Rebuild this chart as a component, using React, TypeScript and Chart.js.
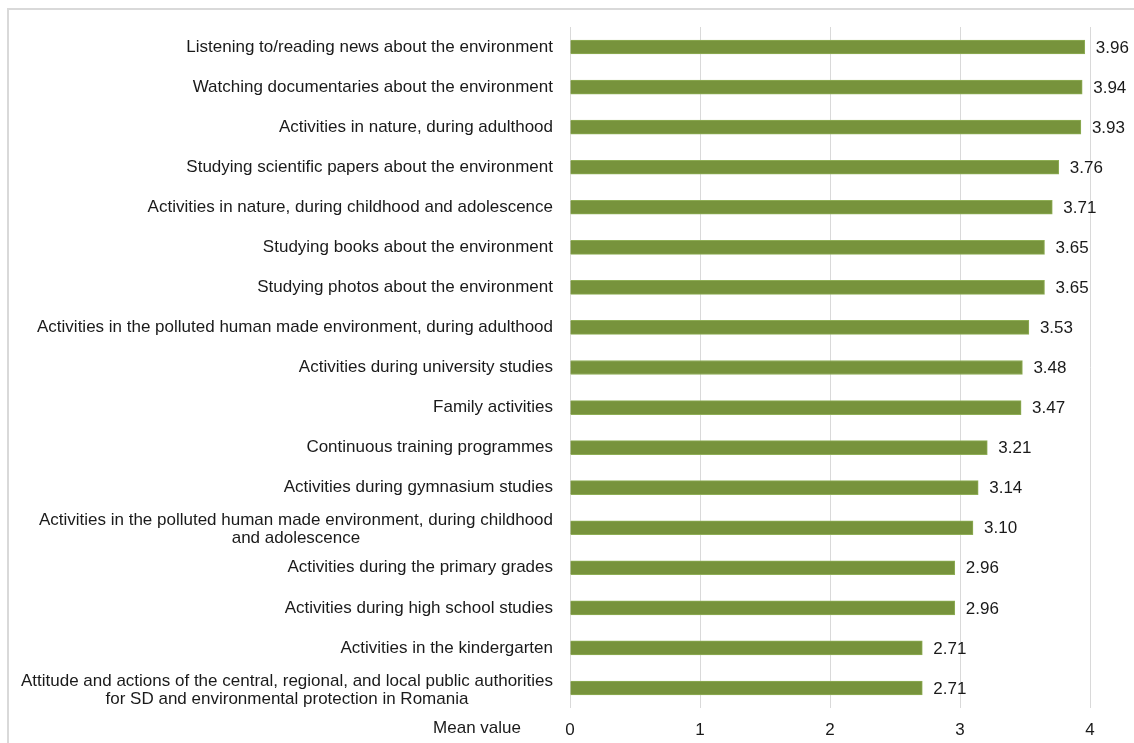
import React, { useEffect, useRef } from "react";
import { Chart, registerables } from "chart.js";

Chart.register(...registerables);

const categories: (string | string[])[] = [
  "Listening to/reading news about the environment",
  "Watching documentaries about the environment",
  "Activities in nature, during adulthood",
  "Studying scientific papers about the environment",
  "Activities in nature, during childhood and adolescence",
  "Studying books about the environment",
  "Studying photos about the environment",
  "Activities in the polluted human made environment, during adulthood",
  "Activities during university studies",
  "Family activities",
  "Continuous training programmes",
  "Activities during gymnasium studies",
  ["Activities in the polluted human made environment, during childhood", "and adolescence"],
  "Activities during the primary grades",
  "Activities during high school studies",
  "Activities in the kindergarten",
  ["Attitude and actions of the central, regional, and local public authorities", "for SD and environmental protection in Romania"],
];

const meanValues: number[] = [3.96, 3.94, 3.93, 3.76, 3.71, 3.65, 3.65, 3.53, 3.48, 3.47, 3.21, 3.14, 3.1, 2.96, 2.96, 2.71, 2.71];

const xTicks: number[] = [0, 1, 2, 3, 4];
const axisTitle = "Mean value";

const FONT = "'Liberation Sans', Arial, sans-serif";
const TEXT = "#1a1a1a";

const customPlugin = {
  id: "custom",
  beforeDraw(chart: any) {
    const ctx = chart.ctx;
    ctx.save();
    ctx.fillStyle = "#ffffff";
    ctx.fillRect(0, 0, chart.width, chart.height);
    ctx.strokeStyle = "#d9d9d9";
    ctx.lineWidth = 2;
    ctx.beginPath();
    ctx.moveTo(8, chart.height + 5);
    ctx.lineTo(8, 9);
    ctx.lineTo(chart.width + 5, 9);
    ctx.stroke();
    ctx.restore();
  },
  afterDatasetsDraw(chart: any) {
    const ctx = chart.ctx;
    const y = chart.scales.y;
    const x = chart.scales.x;
    const labels = chart.data.labels as (string | string[])[];
    const data = chart.data.datasets[0].data as number[];
    ctx.save();
    ctx.font = `17px ${FONT}`;
    ctx.fillStyle = TEXT;
    ctx.textBaseline = "middle";
    const rightEdge = x.left - 17;
    const lh = 18;
    labels.forEach((lab, i) => {
      const cy = y.getPixelForValue(i);
      const lines = Array.isArray(lab) ? lab : [lab];
      const widths = lines.map((l) => ctx.measureText(l).width);
      const maxW = Math.max(...widths);
      const startY = cy - ((lines.length - 1) * lh) / 2 + (lines.length > 1 ? 2 : 0);
      lines.forEach((l, k) => {
        if (lines.length === 1) {
          ctx.textAlign = "right";
          ctx.fillText(l, rightEdge, startY + k * lh);
        } else {
          ctx.textAlign = "center";
          ctx.fillText(l, rightEdge - maxW / 2, startY + k * lh);
        }
      });
      ctx.textAlign = "left";
      ctx.fillText(data[i].toFixed(2), x.getPixelForValue(data[i]) + 11, cy + 1);
    });
    // axis title
    ctx.textAlign = "right";
    ctx.fillText(axisTitle, rightEdge - 32, chart.chartArea.bottom + 20);
    ctx.restore();
  },
};

export default function App() {
  const ref = useRef<HTMLCanvasElement | null>(null);
  useEffect(() => {
    document.body.style.margin = "0";
    const canvas = ref.current!;
    const chart = new Chart(canvas, {
      type: "bar",
      data: {
        labels: categories as any,
        datasets: [
          {
            data: meanValues,
            backgroundColor: "#77933c",
            borderColor: "#8fae55",
            borderWidth: 1,
            barThickness: 14,
          },
        ],
      },
      options: {
        indexAxis: "y",
        animation: false,
        responsive: false,
        devicePixelRatio: 1,
        layout: { padding: { left: 0, right: 44, top: 27, bottom: 0 } },
        plugins: { legend: { display: false }, tooltip: { enabled: false } },
        scales: {
          x: {
            type: "linear",
            min: 0,
            max: 4,
            afterBuildTicks: (s: any) => {
              s.ticks = xTicks.map((v) => ({ value: v }));
            },
            afterFit: (s: any) => {
              s.height = 35;
            },
            grid: { color: "#d9d9d9", lineWidth: 1, drawTicks: false },
            border: { display: false },
            ticks: {
              padding: 12,
              color: TEXT,
              font: { family: FONT, size: 17 },
            },
          },
          y: {
            type: "category",
            afterFit: (s: any) => {
              s.width = 570;
            },
            grid: { display: false },
            border: { display: false },
            ticks: { display: false },
          },
        },
      },
      plugins: [customPlugin],
    });
    return () => chart.destroy();
  }, []);
  return <canvas ref={ref} width={1134} height={743} style={{ display: "block" }} />;
}
